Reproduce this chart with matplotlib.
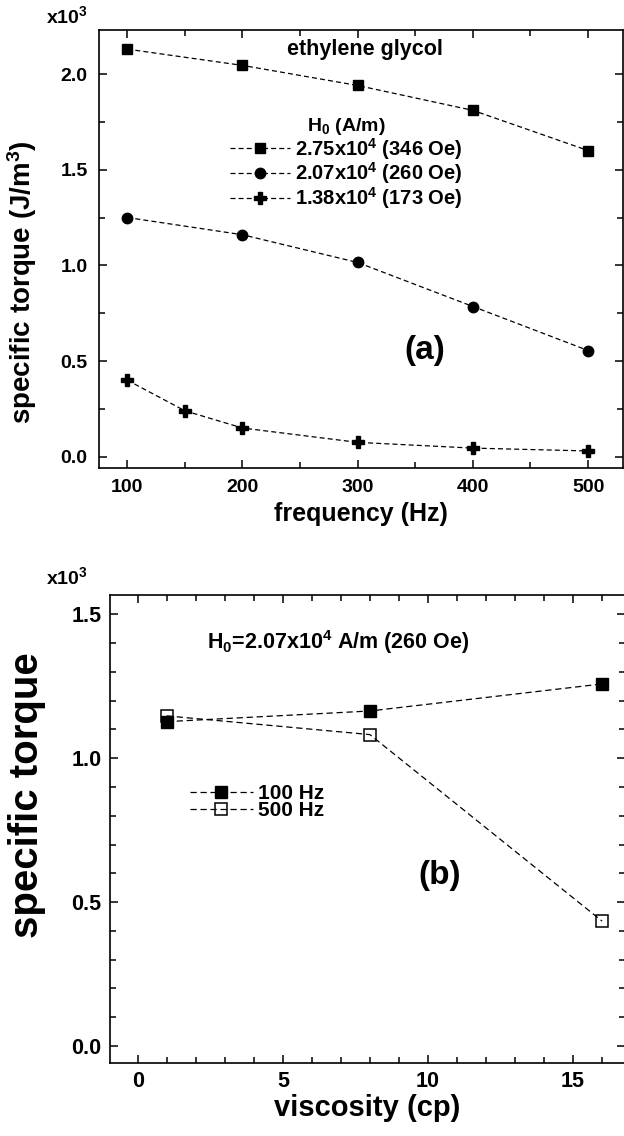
import matplotlib
matplotlib.use("Agg")
import matplotlib.pyplot as plt
from matplotlib.ticker import MultipleLocator, FormatStrFormatter

plt.rcParams['font.family'] = ['Liberation Sans', 'DejaVu Sans']
plt.rcParams['font.weight'] = 'bold'
plt.rcParams['mathtext.fontset'] = 'custom'
plt.rcParams['mathtext.rm'] = 'Liberation Sans:bold'
plt.rcParams['mathtext.it'] = 'Liberation Sans:bold'
plt.rcParams['mathtext.bf'] = 'Liberation Sans:bold'
plt.rcParams['mathtext.sf'] = 'Liberation Sans:bold'
plt.rcParams['mathtext.default'] = 'rm'

# ---------------- data: panel (a) ----------------
freq_a = [100, 200, 300, 400, 500]
torque_346 = [2.13, 2.045, 1.94, 1.81, 1.60]
torque_260 = [1.25, 1.16, 1.015, 0.785, 0.555]
freq_c = [100, 150, 200, 300, 400, 500]
torque_173 = [0.40, 0.24, 0.15, 0.075, 0.045, 0.03]
labels_a = [r"2.75x10$^{4}$ (346 Oe)", r"2.07x10$^{4}$ (260 Oe)", r"1.38x10$^{4}$ (173 Oe)"]

# ---------------- data: panel (b) ----------------
viscosity = [1, 8, 16]
torque_100hz = [1.127, 1.164, 1.258]
torque_500hz = [1.147, 1.082, 0.434]
labels_b = ["100 Hz", "500 Hz"]

W, H = 624, 1136
fig = plt.figure(figsize=(W / 100, H / 100), dpi=100)

def px_axes(l, r, t, b):
    return fig.add_axes([l / W, 1 - b / H, (r - l) / W, (b - t) / H])

def style(ax, xmaj, xmin, ymaj, ymin, lsize, pad):
    ax.xaxis.set_major_locator(MultipleLocator(xmaj))
    ax.xaxis.set_minor_locator(MultipleLocator(xmin))
    ax.yaxis.set_major_locator(MultipleLocator(ymaj))
    ax.yaxis.set_minor_locator(MultipleLocator(ymin))
    ax.yaxis.set_major_formatter(FormatStrFormatter('%.1f'))
    ax.tick_params(which='both', direction='in', top=True, right=True, width=1.1,
                   labelsize=lsize, pad=pad)
    ax.tick_params(which='major', length=6)
    ax.tick_params(which='minor', length=4)
    for s in ax.spines.values():
        s.set_linewidth(1.2)

dash_a = (0, (4, 2.5))
lw = 0.9

# ---------------- panel (a) ----------------
ax1 = px_axes(98.7, 623, 30, 468)
ax1.plot(freq_a, torque_346, ls=dash_a, lw=lw, color='black', marker='s', ms=7.5, label=labels_a[0])
ax1.plot(freq_a, torque_260, ls=dash_a, lw=lw, color='black', marker='o', ms=7.5, label=labels_a[1])
ax1.plot(freq_c, torque_173, ls=dash_a, lw=lw, color='black', marker='P', ms=9, label=labels_a[2])
ax1.set_xlim(75.2, 530.3)
ax1.set_ylim(-0.059, 2.23)
style(ax1, 100, 50, 0.5, 0.25, 14, 8)
ax1.set_xlabel("frequency (Hz)", fontsize=18, fontweight='bold', labelpad=4)
fig.text(22 / W, 1 - 282 / H, r"specific torque (J/m$^{3}$)", rotation=90, fontsize=20,
         fontweight='bold', ha='center', va='center')
fig.text(46 / W, 1 - 16 / H, r"x10$^{3}$", fontsize=14, fontweight='bold', ha='left', va='center')
ax1.text(306, 2.127, "ethylene glycol", fontsize=15.5, fontweight='bold', ha='center', va='center')
ax1.text(358, 0.556, "(a)", fontsize=24, fontweight='bold', ha='center', va='center')
leg1 = ax1.legend(loc='upper left', bbox_to_anchor=(180, 1.835), bbox_transform=ax1.transData,
                  frameon=False, fontsize=14.5, title=r"H$_{0}$ (A/m)", title_fontsize=14,
                  handlelength=3.0, handletextpad=0.25, labelspacing=-0.05, borderpad=0,
                  numpoints=1)
for t in leg1.get_texts():
    t.set_fontweight('bold')
leg1.get_title().set_fontweight('bold')

# ---------------- panel (b) ----------------
dash_b = (0, (5, 3))
ax2 = px_axes(110, 625, 595, 1063)
ax2.plot(viscosity, torque_500hz, ls=dash_b, lw=lw, color='black', marker='s', ms=8.5,
         mfc='none', mew=1.1, label=labels_b[1], zorder=2)
ax2.plot(viscosity, torque_100hz, ls=dash_b, lw=lw, color='black', marker='s', ms=8.5,
         label=labels_b[0], zorder=3)
ax2.set_xlim(-0.955, 16.79)
ax2.set_ylim(-0.059, 1.567)
style(ax2, 5, 1, 0.5, 0.1, 15.5, 6)
ax2.set_xlabel("viscosity (cp)", fontsize=21, fontweight='bold', labelpad=1)
fig.text(27 / W, 1 - 795 / H, "specific torque", rotation=90, fontsize=29,
         fontweight='bold', ha='center', va='center')
fig.text(46 / W, 1 - 577 / H, r"x10$^{3}$", fontsize=14, fontweight='bold', ha='left', va='center')
ax2.text(6.9, 1.405, r"H$_{0}$=2.07x10$^{4}$ A/m (260 Oe)", fontsize=15.5, fontweight='bold',
         ha='center', va='center')
ax2.text(10.4, 0.594, "(b)", fontsize=24, fontweight='bold', ha='center', va='center')
h, l = ax2.get_legend_handles_labels()
leg2 = ax2.legend([h[1], h[0]], [l[1], l[0]], loc='upper left', bbox_to_anchor=(1.45, 0.945),
                  bbox_transform=ax2.transData, frameon=False, fontsize=15,
                  handlelength=3.0, handletextpad=0.25, labelspacing=-0.1, borderpad=0,
                  numpoints=1)
for t in leg2.get_texts():
    t.set_fontweight('bold')

fig.savefig("out.png", dpi=100)
